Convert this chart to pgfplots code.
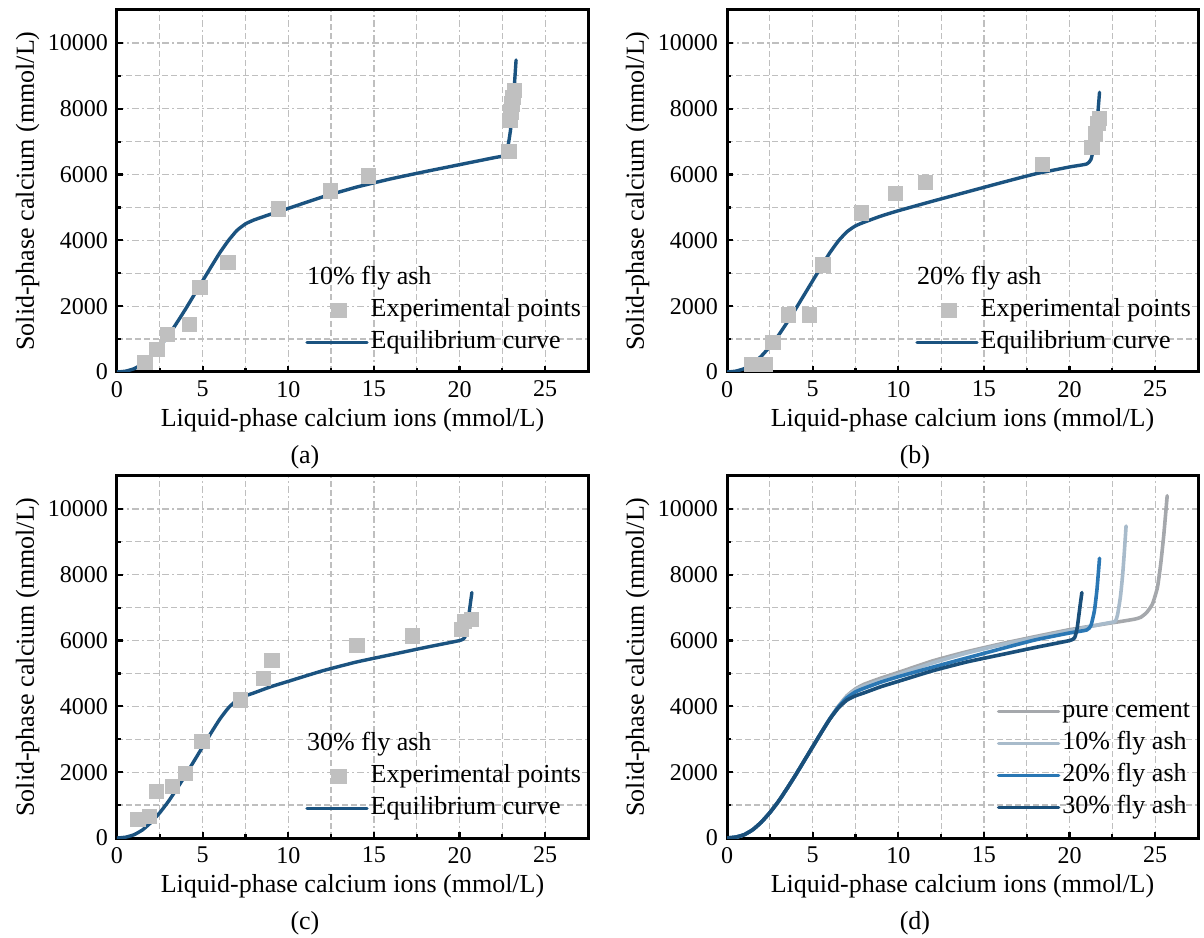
\documentclass[border=0pt]{standalone}
\usepackage{fontspec}
\setmainfont{Liberation Serif}
\usepackage{pgfplots}
\usepackage{pgfplotstable}
\pgfplotsset{compat=1.18}

\definecolor{eqblue}{HTML}{1B5380}
\definecolor{ptgray}{HTML}{C0C0C0}
\definecolor{pc}{HTML}{A5A8AC}
\definecolor{fa10}{HTML}{A8BBCB}
\definecolor{fa20}{HTML}{2A77B4}
\definecolor{fa30}{HTML}{1A4F7A}

% equilibrium curves
\pgfplotstableread{
x y
0 0
0.5 25
1.0 100
1.5 250
2.0 480
2.5 770
3.0 1110
3.5 1500
4.0 1910
4.5 2340
5.0 2770
5.5 3200
6.0 3620
6.5 3990
7.0 4300
7.5 4500
8.0 4620
9.0 4800
10.0 4970
12.0 5320
14.0 5620
16.0 5870
18.0 6090
20.0 6300
22.0 6510
22.65 6580
22.8 6780
22.97 7330
23.1 8000
23.2 8700
23.3 9480
}\curveA
\pgfplotstableread{
x y
0 0
0.5 25
1.0 100
1.5 250
2.0 480
2.5 770
3.0 1110
3.5 1500
4.0 1910
4.5 2340
5.0 2770
5.5 3200
6.0 3620
6.5 3980
7.0 4260
7.5 4440
8.0 4550
9.0 4740
10.0 4900
12.0 5190
14.0 5470
16.0 5750
18.0 6020
20.0 6230
21.0 6320
21.25 6460
21.45 6900
21.6 7550
21.75 8500
}\curveB
\pgfplotstableread{
x y
0 0
0.5 25
1.0 100
1.5 250
2.0 480
2.5 770
3.0 1110
3.5 1500
4.0 1910
4.5 2340
5.0 2770
5.5 3200
6.0 3610
6.5 3950
7.0 4190
7.5 4320
8.0 4410
9.0 4600
10.0 4760
12.0 5080
14.0 5350
16.0 5570
18.0 5790
20.0 6000
20.3 6090
20.45 6400
20.6 7000
20.72 7460
}\curveC
\pgfplotstableread{
x y
0 0
0.5 25
1.0 100
1.5 250
2.0 480
2.5 770
3.0 1110
3.5 1500
4.0 1910
4.5 2340
5.0 2770
5.5 3200
6.0 3620
6.5 4000
7.0 4320
7.5 4530
8.0 4670
9.0 4860
10.0 5030
12.0 5380
14.0 5660
16.0 5900
18.0 6120
20.0 6330
22.0 6500
23.0 6580
23.8 6650
24.15 6705
24.5 6850
24.84 7110
25.13 7610
25.32 8320
25.5 9200
25.7 10400
}\curveP

% experimental points
\pgfplotstableread{
x y
1.63 285
2.34 680
2.95 1150
4.24 1450
4.84 2570
6.47 3330
9.44 4960
12.46 5500
14.69 5960
22.88 6700
22.95 7650
23.0 7900
23.05 8150
23.12 8350
23.2 8550
}\ptsA
\pgfplotstableread{
x y
1.46 225
2.24 225
2.69 900
3.59 1730
4.82 1730
5.6 3260
7.85 4840
9.82 5420
11.6 5770
18.43 6310
21.3 6820
21.5 7230
21.65 7550
21.75 7700
}\ptsB
\pgfplotstableread{
x y
1.23 560
1.9 660
2.3 1410
3.24 1560
4.0 1960
4.96 2940
7.19 4200
8.55 4850
9.04 5390
14.0 5850
17.25 6140
20.1 6330
20.3 6580
20.7 6650
}\ptsC

\pgfplotsset{
  panel/.style={
    scale only axis, width=235.5pt, height=181pt,
    xmin=0, xmax=27.5, ymin=0, ymax=11000,
    xtick={0,5,...,25}, ytick={0,2000,...,10000},
    scaled y ticks=false,
    minor x tick num=1, minor y tick num=1,
    tick pos=left, tick align=inside,
    major tick length=3pt, minor tick length=2pt,
    every tick/.style={black, line width=1.1pt},
    axis line style={line width=1.5pt},
    grid=both,
    major grid style={draw=gray!50, line width=0.6pt, dash pattern=on 3.5pt off 1.5pt on 1pt off 1.5pt},
    minor grid style={draw=gray!50, line width=0.6pt, dash pattern=on 3pt off 1.5pt},
    /pgf/number format/1000 sep={},
    /pgf/number format/assume math mode=true,
    tick label style={font=\fontsize{12}{14}\selectfont},
    xlabel={Liquid-phase calcium ions (mmol/L)},
    ylabel={Solid-phase calcium (mmol/L)},
    xlabel style={at={(axis description cs:0.5,-0.133)}, anchor=center},
    ylabel style={at={(axis description cs:-0.19,0.5)}, anchor=center},
    legend cell align=left,
    legend style={draw=none, fill=none, inner sep=0pt, row sep=0pt,
      nodes={inner sep=1pt, text height=10pt, text depth=4pt}},
    legend image code/.code={\draw[mark repeat=2,mark phase=2,#1] plot coordinates {(0pt,0pt) (16pt,0pt) (30pt,0pt)};},
  },
  eqline/.style={eqblue, line width=1.7pt, smooth, tension=0.3, line cap=round, line join=round},
  expts/.style={only marks, mark=square*, mark size=3.6pt, color=ptgray},
  dline/.style={line width=1.8pt, smooth, tension=0.3, line cap=round, line join=round},
}

\begin{document}
\fontsize{13}{15}\selectfont
\begin{tikzpicture}
\useasboundingbox (0,0) rectangle (602pt,468.5pt);

\begin{axis}[panel, at={(58.5pt,282.5pt)}, anchor=south west,
  legend style={at={(0.399,0.036)}, anchor=south west}, reverse legend,
  extra description/.code={
    \node[anchor=west, inner sep=0pt] at (0.403,0.26) {10\% fly ash};
    \node at (0.399,-0.235) {(a)};}]
\addplot[eqline] table {\curveA};
\addlegendentry{Equilibrium curve}
\addplot[expts] table {\ptsA};
\addlegendentry{Experimental points}
\end{axis}

\begin{axis}[panel, at={(363.5pt,282.5pt)}, anchor=south west,
  legend style={at={(0.399,0.036)}, anchor=south west}, reverse legend,
  extra description/.code={
    \node[anchor=west, inner sep=0pt] at (0.403,0.26) {20\% fly ash};
    \node at (0.399,-0.235) {(b)};}]
\addplot[eqline] table {\curveB};
\addlegendentry{Equilibrium curve}
\addplot[expts] table {\ptsB};
\addlegendentry{Experimental points}
\end{axis}

\begin{axis}[panel, at={(58.5pt,49.5pt)}, anchor=south west,
  legend style={at={(0.399,0.036)}, anchor=south west}, reverse legend,
  extra description/.code={
    \node[anchor=west, inner sep=0pt] at (0.403,0.26) {30\% fly ash};
    \node at (0.399,-0.235) {(c)};}]
\addplot[eqline] table {\curveC};
\addlegendentry{Equilibrium curve}
\addplot[expts] table {\ptsC};
\addlegendentry{Experimental points}
\end{axis}

\begin{axis}[panel, at={(363.5pt,49.5pt)}, anchor=south west,
  legend style={at={(0.572,0.039)}, anchor=south west},
  extra description/.code={\node at (0.399,-0.235) {(d)};}]
\addplot[dline, pc] table {\curveP};
\addlegendentry{pure cement}
\addplot[dline, fa10] table {\curveA};
\addlegendentry{10\% fly ash}
\addplot[dline, fa20] table {\curveB};
\addlegendentry{20\% fly ash}
\addplot[dline, fa30] table {\curveC};
\addlegendentry{30\% fly ash}
\end{axis}
\end{tikzpicture}
\end{document}
